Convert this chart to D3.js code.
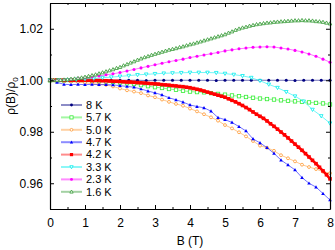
<!DOCTYPE html>
<html>
<head>
<meta charset="utf-8">
<script src="https://cdn.jsdelivr.net/npm/d3@7"></script>
<style>
  body { margin: 0; background: #fff; }
  svg { display: block; font-family: "Liberation Sans", Arial, sans-serif; }
  .axis path, .axis line { stroke: #000; }
</style>
</head>
<body>
<div id="chart"></div>
<script>
// field steps (T) for each measured curve
const step01 = 0.1, step02 = 0.2, step025 = 0.25;

const labels = ["8 K", "5.7 K", "5.0 K", "4.7 K", "4.2 K", "3.3 K", "2.3 K", "1.6 K"];

const r8K = [1.0000, 1.0000, 1.0000, 1.0000, 1.0000, 1.0000, 1.0000, 1.0000, 1.0000,
  1.0000, 1.0000, 0.9999, 1.0000, 1.0000, 1.0000, 1.0000, 1.0000, 1.0000, 1.0000,
  0.9999, 1.0000, 1.0000, 1.0000, 1.0000, 1.0000, 1.0000, 1.0000, 1.0000, 0.9999,
  1.0000, 1.0000, 1.0000, 1.0000];

const r57K = [1.0000, 1.0000, 0.9999, 0.9999, 0.9998, 0.9998, 0.9997, 0.9996, 0.9995,
  0.9993, 0.9991, 0.9988, 0.9985, 0.9981, 0.9977, 0.9973, 0.9970, 0.9966, 0.9963,
  0.9959, 0.9956, 0.9954, 0.9953, 0.9950, 0.9947, 0.9944, 0.9941, 0.9938, 0.9935,
  0.9932, 0.9929, 0.9927, 0.9925, 0.9922, 0.9920, 0.9918, 0.9916, 0.9914, 0.9912,
  0.9910, 0.9906];

const r50K = [1.0000, 0.9999, 0.9997, 0.9995, 0.9993, 0.9990, 0.9987, 0.9984, 0.9982,
  0.9976, 0.9968, 0.9961, 0.9956, 0.9950, 0.9941, 0.9934, 0.9925, 0.9916, 0.9908,
  0.9901, 0.9890, 0.9879, 0.9868, 0.9856, 0.9843, 0.9826, 0.9813, 0.9798, 0.9782,
  0.9764, 0.9746, 0.9738, 0.9726, 0.9709, 0.9697, 0.9685, 0.9672, 0.9663, 0.9655,
  0.9645, 0.9639];

const r47K = [1.0000, 0.9992, 0.9984, 0.9983, 0.9984, 0.9983, 0.9984, 0.9983, 0.9983,
  0.9982, 0.9979, 0.9976, 0.9973, 0.9966, 0.9958, 0.9951, 0.9943, 0.9932, 0.9924,
  0.9915, 0.9904, 0.9898, 0.9893, 0.9880, 0.9855, 0.9847, 0.9836, 0.9820, 0.9803,
  0.9772, 0.9757, 0.9738, 0.9716, 0.9690, 0.9671, 0.9652, 0.9622, 0.9600, 0.9585,
  0.9560, 0.9535];

const r42K = [1.0000, 1.0000, 1.0000, 1.0000, 1.0000, 1.0000, 1.0000, 1.0000, 1.0000,
  1.0000, 1.0000, 1.0000, 0.9999, 0.9999, 0.9999, 0.9998, 0.9998, 0.9997, 0.9996,
  0.9996, 0.9995, 0.9994, 0.9993, 0.9993, 0.9992, 0.9991, 0.9990, 0.9989, 0.9988,
  0.9987, 0.9986, 0.9985, 0.9983, 0.9982, 0.9981, 0.9979, 0.9978, 0.9976, 0.9975,
  0.9973, 0.9971, 0.9968, 0.9965, 0.9962, 0.9958, 0.9954, 0.9950, 0.9946, 0.9942,
  0.9938, 0.9934, 0.9928, 0.9922, 0.9916, 0.9909, 0.9902, 0.9894, 0.9886, 0.9877,
  0.9868, 0.9860, 0.9852, 0.9842, 0.9831, 0.9821, 0.9810, 0.9799, 0.9788, 0.9776,
  0.9764, 0.9752, 0.9740, 0.9728, 0.9715, 0.9702, 0.9689, 0.9676, 0.9662, 0.9648,
  0.9633, 0.9617];

const r33K = [1.0000, 1.0000, 1.0001, 1.0003, 1.0005, 1.0007, 1.0010, 1.0012, 1.0015,
  1.0018, 1.0021, 1.0023, 1.0025, 1.0027, 1.0028, 1.0029, 1.0030, 1.0030, 1.0030,
  1.0029, 1.0026, 1.0022, 1.0017, 1.0010, 0.9998, 0.9984, 0.9971, 0.9955, 0.9938,
  0.9918, 0.9886, 0.9861, 0.9833];

const r23K = [1.0000, 1.0000, 1.0002, 1.0004, 1.0008, 1.0011, 1.0014, 1.0017, 1.0021,
  1.0025, 1.0030, 1.0036, 1.0042, 1.0048, 1.0054, 1.0060, 1.0066, 1.0072, 1.0077,
  1.0082, 1.0088, 1.0093, 1.0098, 1.0103, 1.0108, 1.0114, 1.0118, 1.0122, 1.0125,
  1.0128, 1.0129, 1.0130, 1.0129, 1.0125, 1.0121, 1.0116, 1.0110, 1.0102, 1.0093,
  1.0082, 1.0070];

const r16K = [1.0000, 1.0000, 1.0000, 1.0001, 1.0002, 1.0003, 1.0005, 1.0006, 1.0008,
  1.0010, 1.0013, 1.0016, 1.0019, 1.0022, 1.0026, 1.0030, 1.0034, 1.0038, 1.0042,
  1.0047, 1.0051, 1.0057, 1.0062, 1.0068, 1.0073, 1.0079, 1.0084, 1.0089, 1.0093,
  1.0098, 1.0102, 1.0106, 1.0110, 1.0114, 1.0118, 1.0121, 1.0124, 1.0128, 1.0131,
  1.0135, 1.0139, 1.0142, 1.0146, 1.0150, 1.0154, 1.0158, 1.0162, 1.0166, 1.0170,
  1.0174, 1.0178, 1.0184, 1.0189, 1.0195, 1.0200, 1.0204, 1.0207, 1.0211, 1.0214,
  1.0217, 1.0219, 1.0221, 1.0223, 1.0224, 1.0226, 1.0227, 1.0228, 1.0229, 1.0230,
  1.0231, 1.0232, 1.0232, 1.0233, 1.0232, 1.0232, 1.0231, 1.0229, 1.0228, 1.0226,
  1.0223, 1.0220];

const xTicks = [0, 1, 2, 3, 4, 5, 6, 7, 8];
const yTicks = [0.96, 0.98, 1.00, 1.02];

const width = 335, height = 250;
const margin = { top: 3, right: 5, bottom: 41, left: 50 };

const series = [
  { label: labels[0], values: r8K, step: step025, color: "#000080", shape: "circle", fill: true, line: 1 },
  { label: labels[1], values: r57K, step: step02, color: "#33ee33", shape: "square", fill: false, line: 1 },
  { label: labels[2], values: r50K, step: step02, color: "#ff9933", shape: "circle", fill: false, line: 1 },
  { label: labels[3], values: r47K, step: step02, color: "#0000ff", shape: "triangle", fill: true, line: 1 },
  { label: labels[4], values: r42K, step: step01, color: "#ff0000", shape: "square", fill: true, line: 2.5 },
  { label: labels[5], values: r33K, step: step025, color: "#00eeee", shape: "triangleDown", fill: false, line: 1 },
  { label: labels[6], values: r23K, step: step02, color: "#ff00ff", shape: "circle", fill: true, line: 1 },
  { label: labels[7], values: r16K, step: step01, color: "#339933", shape: "triangle", fill: false, line: 1 },
];

const x = d3.scaleLinear().domain([0, 8]).range([margin.left, width - margin.right]);
const y = d3.scaleLinear().domain([0.95, 1.03]).range([height - margin.bottom, margin.top]);

const svg = d3.select("#chart").append("svg")
  .attr("width", width)
  .attr("height", height);

// markers
function marker(sel, s, size) {
  const h = size / 2;
  if (s.shape === "circle") {
    sel.append("circle").attr("r", s.fill ? h * 0.9 : h * 0.85);
  } else if (s.shape === "square") {
    sel.append("rect").attr("x", -h).attr("y", -h).attr("width", size).attr("height", size);
  } else if (s.shape === "triangle") {
    sel.append("path").attr("d", `M0,${-h * 1.1}L${h * 1.05},${h * 0.8}L${-h * 1.05},${h * 0.8}Z`);
  } else {
    sel.append("path").attr("d", `M0,${h * 1.1}L${h * 1.05},${-h * 0.8}L${-h * 1.05},${-h * 0.8}Z`);
  }
  sel.selectAll("*")
    .attr("fill", s.fill ? s.color : "#fff")
    .attr("stroke", s.color)
    .attr("stroke-width", s.fill ? 0 : 0.8);
}

const plot = svg.append("g");
const line = d3.line().x((d) => x(d[0])).y((d) => y(d[1]));

series.forEach((s) => {
  const pts = s.values.map((v, i) => [i * s.step, v]);
  const g = plot.append("g");
  g.append("path")
    .datum(pts)
    .attr("fill", "none")
    .attr("stroke", s.color)
    .attr("stroke-opacity", s.line > 1 ? 1 : 0.55)
    .attr("stroke-width", s.line)
    .attr("d", line);
  g.selectAll("g")
    .data(pts)
    .join("g")
    .attr("transform", (d) => `translate(${x(d[0])},${y(d[1])})`)
    .each(function () {
      marker(d3.select(this), s, s.shape === "square" && s.fill ? 3.6 : 3.4);
    });
});

// axes with inward ticks on all four sides
const fmt = d3.format(".2f");
const xMinor = d3.range(0, 8.01, 0.5).filter((d) => !xTicks.includes(d));
const yMinor = [0.95, 0.97, 0.99, 1.01, 1.03];

function frame(axisFn, scale, major, minor, transform, showLabels, format) {
  const g = svg.append("g").attr("class", "axis").attr("transform", transform);
  g.call(axisFn(scale).tickValues(major).tickSizeInner(-4).tickSizeOuter(0)
    .tickFormat(showLabels ? format : () => ""));
  g.selectAll(".tick text").attr("font-size", 12).attr("fill", "#000");
  g.call((g) => g.select(".domain").attr("stroke-width", 1.2));
  const mg = svg.append("g").attr("class", "axis").attr("transform", transform);
  mg.call(axisFn(scale).tickValues(minor).tickSizeInner(-2).tickSizeOuter(0).tickFormat(() => ""));
  mg.select(".domain").remove();
  return g;
}

const bottom = frame(d3.axisBottom, x, xTicks, xMinor, `translate(0,${height - margin.bottom})`, true, d3.format("d"));
bottom.selectAll(".tick text").attr("dy", "1.25em");
frame(d3.axisTop, x, xTicks, xMinor, `translate(0,${margin.top})`, false);
const left = frame(d3.axisLeft, y, yTicks, yMinor, `translate(${margin.left},0)`, true, fmt);
left.selectAll(".tick text").attr("dx", "-0.35em");
frame(d3.axisRight, y, yTicks, yMinor, `translate(${width - margin.right},0)`, false);

// axis titles
svg.append("text")
  .attr("x", (margin.left + width - margin.right) / 2)
  .attr("y", 245)
  .attr("text-anchor", "middle")
  .attr("font-size", 12)
  .text("B (T)");

const yt = svg.append("text")
  .attr("transform", `translate(15,${96}) rotate(-90)`)
  .attr("text-anchor", "middle")
  .attr("font-size", 12);
yt.append("tspan").text("\u03C1(B)/\u03C1");
yt.append("tspan").attr("font-size", 8).attr("dy", 3).text("0");

// legend
const legend = svg.append("g").attr("transform", "translate(61,105)");
series.forEach((s, i) => {
  const row = legend.append("g").attr("transform", `translate(0,${i * 12.4})`);
  row.append("line")
    .attr("x1", 0).attr("x2", 21)
    .attr("stroke", s.color)
    .attr("stroke-opacity", 0.45)
    .attr("stroke-width", 2);
  const m = row.append("g").attr("transform", "translate(10.5,0)");
  marker(m, s, 3.2);
  row.append("text")
    .attr("x", 25)
    .attr("dy", "0.35em")
    .attr("font-size", 11)
    .text(s.label);
});
</script>
</body>
</html>
